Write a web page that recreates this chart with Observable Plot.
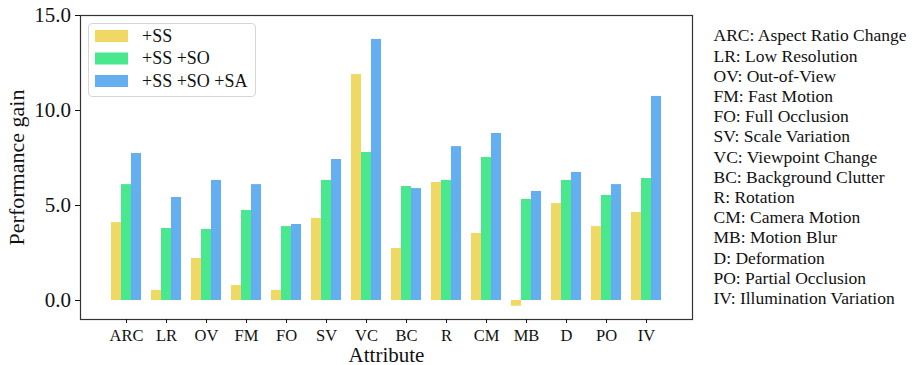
<!DOCTYPE html>
<html>
<head>
<meta charset="utf-8">
<script src="https://cdn.jsdelivr.net/npm/d3@7"></script>
<script src="https://cdn.jsdelivr.net/npm/@observablehq/plot@0.6"></script>
<style>
  body { margin: 0; background: #fff; }
  #wrap { position: relative; width: 918px; height: 365px; color: #111; }
  #legend { position: absolute; left: 0; top: 0; pointer-events: none; }
</style>
</head>
<body>
<div id="wrap"></div>
<script>
// ---- data ----
const attributes = ["ARC", "LR", "OV", "FM", "FO", "SV", "VC", "BC", "R", "CM", "MB", "D", "PO", "IV"];
const attributeNames = ["Aspect Ratio Change", "Low Resolution", "Out-of-View", "Fast Motion", "Full Occlusion",
  "Scale Variation", "Viewpoint Change", "Background Clutter", "Rotation", "Camera Motion", "Motion Blur",
  "Deformation", "Partial Occlusion", "Illumination Variation"];
const series = ["+SS", "+SS +SO", "+SS +SO +SA"];
const gainSS      = [4.10, 0.53, 2.21, 0.79, 0.53, 4.32, 11.89, 2.74, 6.21, 3.53, -0.30, 5.10, 3.89, 4.63];
const gainSSSO    = [6.10, 3.79, 3.74, 4.74, 3.89, 6.32, 7.79, 6.00, 6.32, 7.53, 5.32, 6.32, 5.53, 6.42];
const gainSSSOSA  = [7.74, 5.42, 6.32, 6.10, 4.00, 7.42, 13.74, 5.89, 8.10, 8.79, 5.74, 6.74, 6.10, 10.74];
const colors = ["#f0d864", "#4ae88e", "#64aff0"];
const yTicks = [0, 5, 10, 15];
const xLabel = "Attribute";
const yLabel = "Performance gain";

const FONT = '"Liberation Serif", "Times New Roman", "DejaVu Serif", serif';

const seriesValues = [gainSS, gainSSSO, gainSSSOSA];
const data = attributes.flatMap((a, i) => seriesValues.map((vals, k) => ({attribute: a, series: series[k], k, value: vals[i]})));
const notesText = attributes.map((a, i) => `${a}: ${attributeNames[i]}`).join("\n");

const barMarks = series.map((s, k) => Plot.barY(data.filter(d => d.k === k), {
  x: "attribute", y: "value", fill: colors[k],
  insetLeft: k * 10, insetRight: (series.length - 1 - k) * 10
}));

const chart = Plot.plot({
  width: 918, height: 365,
  marginLeft: 80, marginRight: 226, marginTop: 15, marginBottom: 46,
  style: {fontFamily: FONT, fontSize: "16.5px", color: "#111", background: "white", overflow: "visible"},
  x: {type: "band", domain: attributes, paddingInner: 0.26, paddingOuter: 0.685, label: null},
  y: {domain: [-1, 15], label: null},
  marks: [
    ...barMarks,
    Plot.frame({stroke: "#333", strokeWidth: 1.2}),
    Plot.axisY({ticks: yTicks, tickFormat: d3.format(".1f"), tickSize: 5, tickPadding: 4.5, fontSize: 21, label: null}),
    Plot.axisX({tickSize: 4, tickPadding: 5.3, fontSize: 16.5, label: null}),
    Plot.text([yLabel], {text: d => d, frameAnchor: "left", textAnchor: "middle", lineAnchor: "middle", rotate: -90, dx: -64, fontSize: 22}),
    Plot.text([xLabel], {text: d => d, frameAnchor: "bottom", textAnchor: "middle", lineAnchor: "middle", dy: 35.5, fontSize: 21}),
    Plot.text([notesText], {text: d => d, frameAnchor: "top-right", textAnchor: "start", lineAnchor: "top", dx: 21, dy: 11.5, fontSize: 17.5, lineHeight: 20.2 / 17.5})
  ]
});

const wrap = document.getElementById("wrap");
wrap.appendChild(chart);

// in-plot legend (overlay svg)
const lg = d3.create("svg").attr("id", "legend").attr("width", 918).attr("height", 365)
  .style("font-family", FONT);
lg.append("rect").attr("x", 88.5).attr("y", 23.5).attr("width", 167).attr("height", 73).attr("rx", 3.5)
  .attr("fill", "white").attr("fill-opacity", 0.85).attr("stroke", "#d6d6d6").attr("stroke-width", 1);
series.forEach((s, k) => {
  lg.append("rect").attr("x", 95).attr("y", 30 + k * 22.5).attr("width", 33).attr("height", 12).attr("fill", colors[k]);
  lg.append("text").attr("x", 142).attr("y", 41.5 + k * 22.5).attr("font-size", 18).attr("fill", "#111").text(s);
});
wrap.appendChild(lg.node());
</script>
</body>
</html>
